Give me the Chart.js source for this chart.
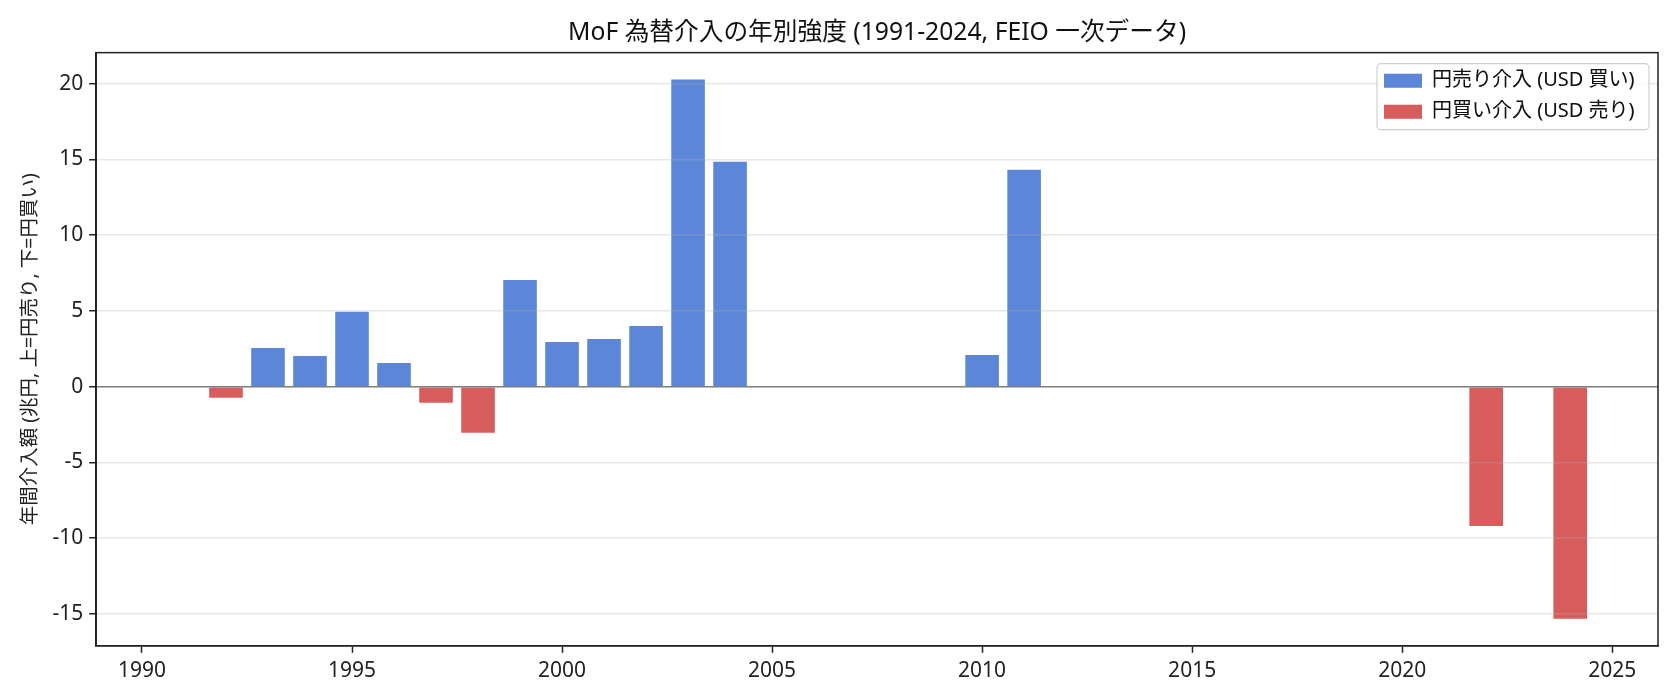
<!DOCTYPE html>
<html>
<head>
<meta charset="utf-8">
<script src="https://cdn.jsdelivr.net/npm/chart.js@4.4.1/dist/chart.umd.min.js"></script>
<style>
  html, body { margin: 0; padding: 0; background: #fff; }
  #wrap { width: 1680px; height: 700px; }
</style>
</head>
<body>
<div id="wrap"><canvas id="barChart"></canvas></div>
<script>
// yearly intervention totals (trillion yen)
const sellYears = [1993, 1994, 1995, 1996, 1999, 2000, 2001, 2002, 2003, 2004, 2010, 2011];
const sellValues = [2.56, 2.03, 4.94, 1.57, 7.05, 2.95, 3.15, 4.01, 20.27, 14.85, 2.09, 14.32];
const buyYears = [1991, 1992, 1997, 1998, 2022, 2024];
const buyValues = [-0.05, -0.73, -1.06, -3.04, -9.19, -15.32];
const xTicks = [1990, 1995, 2000, 2005, 2010, 2015, 2020, 2025];
const yTicks = [-15, -10, -5, 0, 5, 10, 15, 20];

const BLUE = 'rgb(92, 134, 215)';
const RED = 'rgb(215, 92, 92)';
const FONT = "'Noto Sans', 'Noto Sans CJK JP', sans-serif";

Chart.defaults.font.family = FONT;
Chart.defaults.color = '#222';

// matplotlib-like 5% margins around the bars
const allYears = sellYears.concat(buyYears);
const xLo = Math.min(...allYears) - 0.4;
const xHi = Math.max(...allYears) + 0.4;
const xPad = (xHi - xLo) * 0.05;
const yLo = Math.min(0, ...buyValues);
const yHi = Math.max(0, ...sellValues);
const yPad = (yHi - yLo) * 0.05;

const framePlugin = {
    id: 'frame',
    afterLayout(chart) {
        // put the legend in the upper right corner of the plot
        const a = chart.chartArea;
        const lg = chart.legend;
        lg.left = a.right - 285;
        lg.top = a.top + 7;
        lg.right = a.right;
        lg.bottom = a.bottom;
    },
    afterDraw(chart) {
        const ctx = chart.ctx;
        const a = chart.chartArea;
        const y0 = chart.scales.y.getPixelForValue(0);

        ctx.save();
        // zero line
        ctx.strokeStyle = '#808080';
        ctx.lineWidth = 1.5;
        ctx.beginPath();
        ctx.moveTo(a.left, y0);
        ctx.lineTo(a.right, y0);
        ctx.stroke();

        // full frame
        ctx.strokeStyle = '#222';
        ctx.lineWidth = 1.5;
        ctx.strokeRect(a.left, a.top, a.right - a.left, a.bottom - a.top);

        // legend box
        const lg = chart.legend;
        const bx = lg.left + 4, by = lg.top + 4;
        ctx.fillStyle = 'rgba(255,255,255,0.85)';
        ctx.strokeStyle = '#cfcfcf';
        ctx.lineWidth = 1.2;
        ctx.beginPath();
        ctx.roundRect(bx, by, 272, 66, 4);
        ctx.fill();
        ctx.stroke();
        ctx.restore();

        lg.draw();
    }
};

const ctx = document.getElementById('barChart').getContext('2d');
const barChart = new Chart(ctx, {
    type: 'bar',
    data: {
        datasets: [
            {
                label: '円売り介入 (USD 買い)',
                data: sellYears.map((yr, i) => ({ x: yr, y: sellValues[i] })),
                backgroundColor: BLUE,
                grouped: false,
                barPercentage: 0.8,
                categoryPercentage: 1.0
            },
            {
                label: '円買い介入 (USD 売り)',
                data: buyYears.map((yr, i) => ({ x: yr, y: buyValues[i] })),
                backgroundColor: RED,
                grouped: false,
                barPercentage: 0.8,
                categoryPercentage: 1.0
            }
        ]
    },
    options: {
        responsive: true,
        maintainAspectRatio: false,
        animation: false,
        layout: {
            padding: { left: 19, right: 22, top: 0, bottom: 10 }
        },
        scales: {
            x: {
                type: 'linear',
                offset: false,
                min: xLo - xPad,
                max: xHi + xPad,
                afterBuildTicks: axis => { axis.ticks = xTicks.map(v => ({ value: v })); },
                ticks: {
                    font: { size: 21 },
                    padding: 6,
                    maxRotation: 0,
                    callback: v => String(v)
                },
                grid: {
                    offset: false,
                    drawOnChartArea: false,
                    tickLength: 7,
                    tickColor: '#222',
                    tickWidth: 1.5
                },
                border: { color: '#222', width: 1.5 }
            },
            y: {
                min: yLo - yPad,
                max: yHi + yPad,
                afterBuildTicks: axis => { axis.ticks = yTicks.map(v => ({ value: v })); },
                ticks: {
                    font: { size: 21 },
                    padding: 6,
                    callback: v => String(v)
                },
                grid: {
                    color: 'rgba(176, 176, 176, 0.3)',
                    lineWidth: 1.5,
                    z: 1,
                    tickLength: 7,
                    tickColor: '#222',
                    tickWidth: 1.5
                },
                border: { color: '#222', width: 1.5, z: 1 },
                title: {
                    display: true,
                    text: '年間介入額 (兆円, 上=円売り, 下=円買い)',
                    font: { size: 19.5 },
                    padding: { top: 0, bottom: 4 }
                }
            }
        },
        plugins: {
            title: {
                display: true,
                fullSize: false,
                text: 'MoF 為替介入の年別強度 (1991-2024, FEIO 一次データ)',
                font: { size: 24.7, weight: 'normal' },
                color: '#111',
                padding: { top: 18, bottom: 5 }
            },
            legend: {
                position: 'chartArea',
                align: 'start',
                labels: {
                    boxWidth: 38,
                    boxHeight: 14,
                    padding: 11,
                    font: { size: 20 },
                    color: '#111'
                }
            },
            tooltip: { enabled: false }
        }
    },
    plugins: [framePlugin]
});
</script>
</body>
</html>
